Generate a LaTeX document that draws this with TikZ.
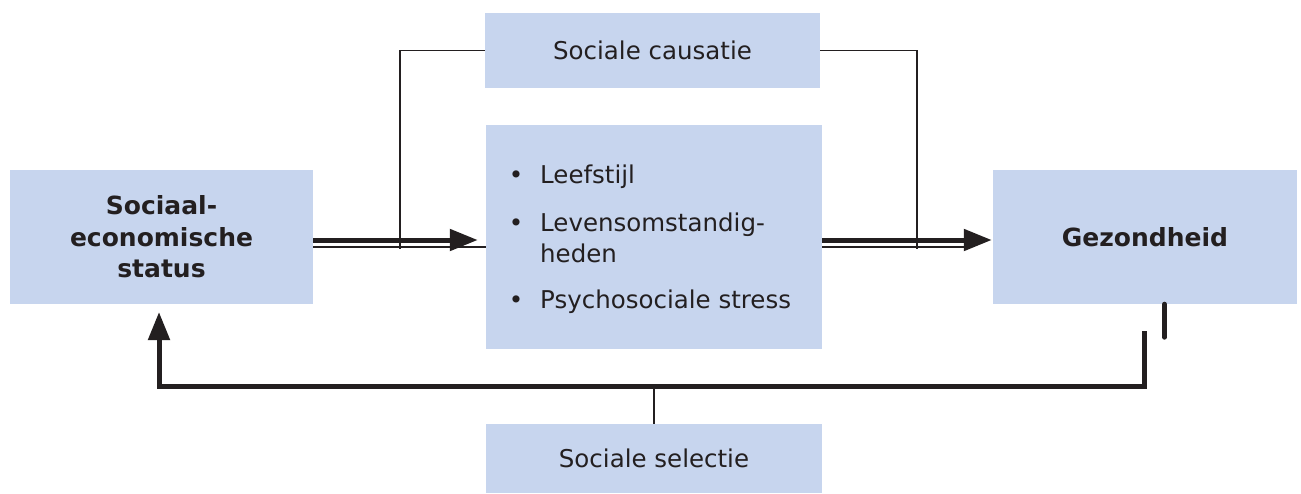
\documentclass[tikz,border=0pt]{standalone}
\usepackage{fontspec}
\setmainfont{DejaVu Sans}
\usetikzlibrary{arrows.meta}
\definecolor{boxblue}{RGB}{199,213,238}
\definecolor{ink}{RGB}{35,31,32}
\begin{document}
\begin{tikzpicture}[x=1pt,y=-1pt,
  box/.style={fill=boxblue,draw=none,inner sep=0pt,text=ink,align=center,
    font=\fontsize{24.5}{31.5}\selectfont},
  boldbox/.style={box,font=\fontsize{25}{31.5}\selectfont\bfseries},
  itemtext/.style={inner sep=0pt,anchor=base west,text=ink,align=left,
    font=\fontsize{24.5}{31}\selectfont},
  bulletmark/.style={inner sep=0pt,anchor=base,text=ink,font=\fontsize{24.5}{31}\selectfont},
  thinline/.style={draw=ink,line width=1.4pt},
  heavyarrow/.style={draw=ink,line width=5pt,-{Triangle[length=28pt,width=21pt]}},
  heavyline/.style={draw=ink,line width=5pt}]
\useasboundingbox (0,0) rectangle (1301,493);

% boxes
\node[boldbox,minimum width=303pt,minimum height=134pt]
  (ses) at (161.5,237) {Sociaal-\\economische\\status};
\node[box,minimum width=336pt,minimum height=224pt] (mid) at (654,237) {};
\node[boldbox,minimum width=304pt,minimum height=134pt]
  (gez) at (1145,237) {Gezondheid};
\node[box,minimum width=335pt,minimum height=75pt] (caus) at (652.5,50.5) {Sociale causatie};
\node[box,minimum width=336pt,minimum height=69pt] (sel) at (654,458.5) {Sociale selectie};

% bullet list
\node[bulletmark] (b1) at (516,183) {•};
\node[itemtext] (t1) at (540,183) {Leefstijl};
\node[bulletmark] (b2) at (516,231) {•};
\node[itemtext] (t2) at (540,262) {Levensomstandig-\\heden};
\node[bulletmark] (b3) at (516,308) {•};
\node[itemtext] (t3) at (540,308) {Psychosociale stress};

% sociale causatie connectors
\coordinate (cl) at (400,249);
\coordinate (cr) at (917,249);
\draw[thinline] (caus.west) -| (cl);
\draw[thinline] (caus.east) -| (cr);

% double arrows SES -> mid -> Gezondheid
\draw[heavyarrow] ([yshift=-3pt]ses.east) -- ([xshift=-8pt,yshift=-3pt]mid.west);
\draw[thinline] ([yshift=-10pt]ses.east) -- ([yshift=-10pt]mid.west);
\draw[heavyarrow] ([yshift=-3pt]mid.east) -- ([xshift=-1pt,yshift=-3pt]gez.west);
\draw[thinline] ([yshift=-10pt]mid.east) -- ([xshift=-27pt,yshift=-10pt]gez.west);

% feedback (sociale selectie)
\coordinate (gb) at (1144,331);
\coordinate (bl) at (159,386);
\coordinate (st) at (159,312);
\draw[heavyarrow] (gb) |- (bl) -- (st);
\draw[heavyline,line cap=round] ([xshift=19.5pt]gez.south) -- ++(0,33);
\draw[thinline] (sel.north) -- (sel.north |- bl);
\end{tikzpicture}
\end{document}
